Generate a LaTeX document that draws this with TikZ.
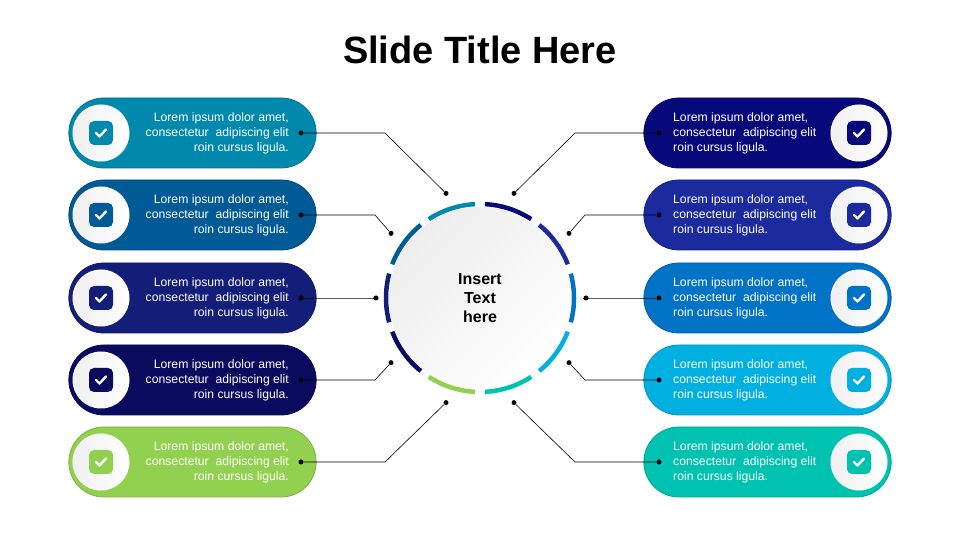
\documentclass[tikz,border=0pt]{standalone}
\usepackage{fontspec}
\setmainfont{Liberation Sans}
\usetikzlibrary{shapes.misc,positioning,calc}
\definecolor{lone}{HTML}{0089AD}
\definecolor{ltwo}{HTML}{005A96}
\definecolor{lthree}{HTML}{131E78}
\definecolor{lfour}{HTML}{0A0A5E}
\definecolor{lfive}{HTML}{92D050}
\definecolor{rone}{HTML}{07097A}
\definecolor{rtwo}{HTML}{1B2A9C}
\definecolor{rthree}{HTML}{0073C6}
\definecolor{rfour}{HTML}{00B0E0}
\definecolor{rfive}{HTML}{00C2B0}
\tikzset{
    % Pill shaped item
    pill/.style={
        rounded rectangle,
        minimum width=254pt,
        minimum height=70pt,
        fill=#1,
        draw=#1!85!black,
        line width=0.8pt
    },
    % White disc holding the icon
    disc/.style={
        circle,
        minimum size=56pt,
        draw=white,
        line width=1pt,
        left color=gray!12,
        right color=white
    },
    % Icon square
    badge/.style={
        rectangle,
        rounded corners=5pt,
        minimum size=24pt,
        fill=#1
    },
    % Item text
    item text/.style={
        font=\fontsize{12.2}{15}\selectfont,
        text=white,
        inner sep=0pt
    },
    link/.style={line width=0.6pt, black},
    pin/.style={circle, fill=black, inner sep=0pt, minimum size=5pt},
    segment/.style={line width=4.5pt, color=#1}
}
\newcommand{\tick}[1]{\draw[white, line width=2.4pt, line cap=round, line join=round]
    ($(#1)+(-5,0)$) -- ($(#1)+(-1.5,-3.5)$) -- ($(#1)+(5,3.5)$);}
\begin{document}
\begin{tikzpicture}[x=1pt,y=1pt]
        \useasboundingbox (0,0) rectangle (960,540);

        % Title
        \node[font=\fontsize{38}{44}\selectfont\bfseries] (title) at (480,490) {Slide Title Here};

        % Centre
        \coordinate (c) at (480,242);
        \node[circle, minimum size=182pt, left color=gray!14, right color=white, shading angle=45] (hub) at (c) {};
        \node[font=\fontsize{16}{19}\selectfont\bfseries, align=center] (hubtext) at (c) {Insert\\Text\\here};

        % Left items
        \foreach \i/\col/\y/\ang/\kx/\r in {1/lone/407/108/385/110, 2/ltwo/325/144/375/110, 3/lthree/242/180/375/104, 4/lfour/160/216/375/110, 5/lfive/78/252/385/110}{
            \node[pill=\col] (lp\i) at (192.5,\y) {};
            \node[disc] (ld\i) at (101,\y) {};
            \node[badge=\col] (lb\i) at (ld\i) {};
            \tick{lb\i}
            \node[item text, align=right, anchor=east] (lt\i) at (289,\y) {Lorem ipsum dolor amet,\\consectetur\ \ adipiscing elit\\roin cursus ligula.};
            \draw[segment=\col] ($(c)+(\ang-15:94)$) arc (\ang-15:\ang+15:94);
            \node[pin] (la\i) at (301,\y) {};
            \node[pin] (lc\i) at ($(c)+(\ang:\r)$) {};
            \coordinate (lk\i) at (\kx,\y);
            \draw[link] (la\i) -- (lk\i) -- (lc\i);
        }

        % Right items
        \foreach \i/\col/\y/\ang/\kx/\r in {1/rone/407/72/575/110, 2/rtwo/325/36/585/110, 3/rthree/242/0/585/106, 4/rfour/160/-36/585/110, 5/rfive/78/-72/575/110}{
            \node[pill=\col] (rp\i) at (767.5,\y) {};
            \node[disc] (rd\i) at (859,\y) {};
            \node[badge=\col] (rb\i) at (rd\i) {};
            \tick{rb\i}
            \node[item text, align=left, anchor=west] (rt\i) at (673,\y) {Lorem ipsum dolor amet,\\consectetur\ \ adipiscing elit\\roin cursus ligula.};
            \draw[segment=\col] ($(c)+(\ang-15:94)$) arc (\ang-15:\ang+15:94);
            \node[pin] (ra\i) at (659,\y) {};
            \node[pin] (rc\i) at ($(c)+(\ang:\r)$) {};
            \coordinate (rk\i) at (\kx,\y);
            \draw[link] (ra\i) -- (rk\i) -- (rc\i);
        }

    \end{tikzpicture}
\end{document}
